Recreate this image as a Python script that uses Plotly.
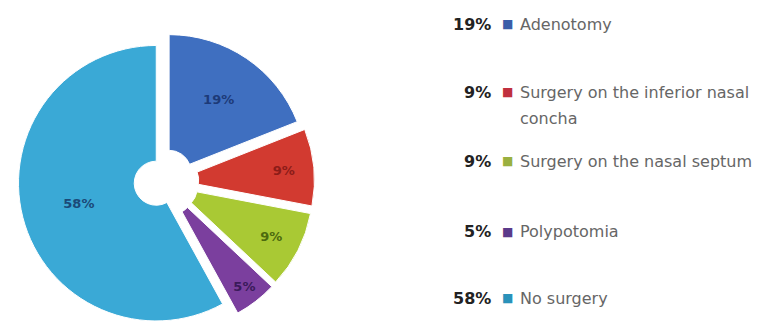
import plotly.graph_objects as go

# ---- data ----
categories = ["Adenotomy", "Surgery on the inferior nasal concha", "Surgery on the nasal septum",
              "Polypotomia", "No surgery"]
values = [19, 9, 9, 5, 58]

# ---- styles ----
slice_colors = ["#3f6fc0", "#d23a30", "#a9c934", "#7b3f9e", "#3aa9d6"]
text_colors = ["#1d3a78", "#8c1c18", "#4c6a0e", "#3a1a5a", "#1b4a78"]
legend_square_colors = ["#3b5da8", "#c0303e", "#9ab040", "#5b3a8a", "#2a92ba"]
pulls = [0.08, 0.1, 0.1, 0.1, 0.05]
legend_label_lines = {"Surgery on the inferior nasal concha": ["Surgery on the inferior nasal", "concha"]}
legend_y_px = [24, 92, 161, 232, 298]   # vertical centres of legend rows (px from top)
line_gap_px = 26

W, H = 766, 333

fig = go.Figure()
fig.add_trace(go.Pie(
    labels=categories,
    values=values,
    text=[f"{v}%" for v in values],
    textinfo="text",
    textposition="inside",
    insidetextorientation="horizontal",
    textfont=dict(family="DejaVu Sans", size=13, color=text_colors, weight="bold"),
    hole=0.16,
    pull=pulls,
    sort=False,
    direction="clockwise",
    rotation=0,
    marker=dict(colors=slice_colors, line=dict(color="white", width=1)),
    domain=dict(x=[0.0104, 0.415], y=[0.0, 0.91]),
    showlegend=False,
))

def py(px):
    return 1 - px / H

annotations = []
for i, (cat, v) in enumerate(zip(categories, values)):
    yc = legend_y_px[i]
    annotations.append(dict(
        x=493 / W, y=py(yc), xref="paper", yref="paper", xanchor="right", yanchor="middle",
        text=f"<b>{v}%</b>", showarrow=False,
        font=dict(family="DejaVu Sans", size=16, color="#222222")))
    annotations.append(dict(
        x=507 / W, y=py(yc), xref="paper", yref="paper", xanchor="center", yanchor="middle",
        text="■", showarrow=False,
        font=dict(family="DejaVu Sans", size=12, color=legend_square_colors[i])))
    lines = legend_label_lines.get(cat, [cat])
    for k, line in enumerate(lines):
        annotations.append(dict(
            x=518 / W, y=py(yc + k * line_gap_px), xref="paper", yref="paper",
            xanchor="left", yanchor="middle", text=line, showarrow=False,
            font=dict(family="DejaVu Sans", size=16, color="#666666")))

fig.update_layout(
    width=W, height=H,
    margin=dict(l=0, r=0, t=0, b=0),
    paper_bgcolor="white", plot_bgcolor="white",
    annotations=annotations,
)

fig.write_html("out.html")
